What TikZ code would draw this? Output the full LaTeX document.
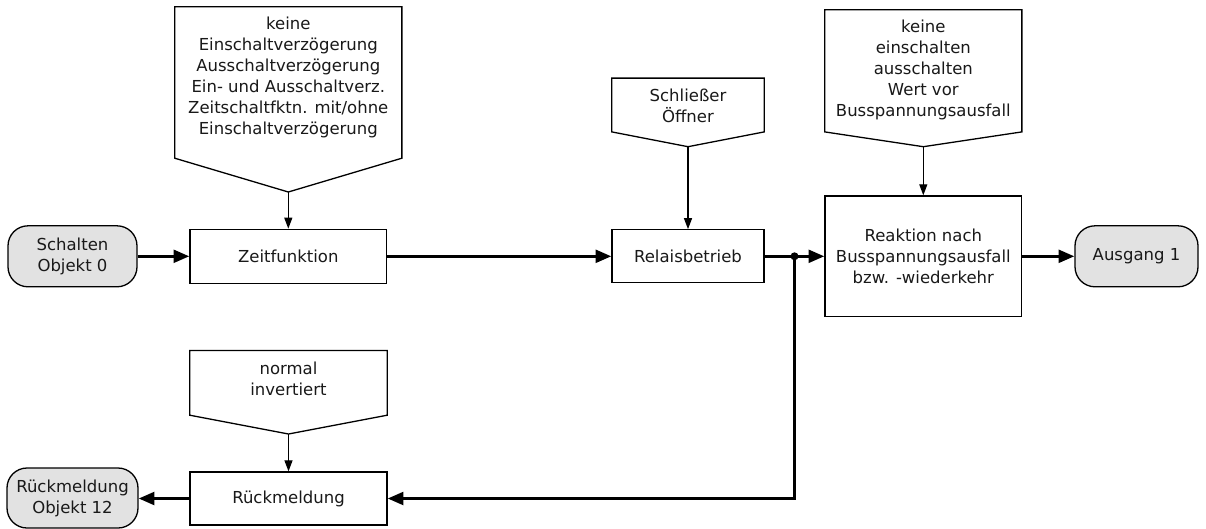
\documentclass[tikz,border=0pt]{standalone}
\usepackage{fontspec}
\setmainfont{DejaVu Sans}
\usetikzlibrary{arrows.meta,calc}
\definecolor{termgray}{RGB}{226,226,226}
\begin{document}
\begin{tikzpicture}[x=1pt,y=-1pt,
  every node/.style={font=\fontsize{16.5}{21}\selectfont, align=center, inner sep=0pt, text=black!90},
  proc/.style={draw, line width=1.3pt, fill=white},
  term/.style={draw, line width=1.3pt, fill=termgray, rounded corners=20pt},
  flow/.style={line width=3pt, -{Triangle[length=15.7pt,width=12.7pt]}},
  parr/.style={line width=1.2pt, -{Triangle[length=11pt,width=8pt]}},
  frame/.style={draw=none, fill=none}]
\useasboundingbox (0,0) rectangle (1206,528);

% process boxes
\node[proc, minimum width=196.7pt, minimum height=54pt] (zeit) at (288.3,256.3) {Zeitfunktion};
\node[proc, minimum width=152pt, minimum height=53pt] (relais) at (688,256.3) {Relaisbetrieb};
\node[proc, minimum width=196.7pt, minimum height=120.7pt] (reakt) at (923.3,256.3) {Reaktion nach\\Busspannungsausfall\\bzw. -wiederkehr};
\node[proc, minimum width=197pt, minimum height=53pt] (rueck) at (288.5,498.5) {Rückmeldung};

% terminals
\node[term, minimum width=129pt, minimum height=61pt] (schalt) at (72.5,256.3) {Schalten\\Objekt 0};
\node[term, minimum width=123pt, minimum height=61pt] (ausg) at (1136.5,256.3) {Ausgang 1};
\node[term, minimum width=131pt, minimum height=60pt] (robj) at (72.5,498) {Rückmeldung\\Objekt 12};

% parameter pentagons
\node[frame, minimum width=226.7pt, minimum height=151pt] (p1) at (288.3,82.5) {};
\coordinate (p1tip) at (288.3,192);
\draw[proc] (p1.north west) -- (p1.north east) -- (p1.south east) -- (p1tip) -- (p1.south west) -- cycle;
\node (t1) at (288.3,77.5) {keine\\Einschaltverzögerung\\Ausschaltverzögerung\\Ein- und Ausschaltverz.\\Zeitschaltfktn. mit/ohne\\Einschaltverzögerung};

\node[frame, minimum width=152pt, minimum height=53.4pt] (p2) at (688,105) {};
\coordinate (p2tip) at (688,146.7);
\draw[proc] (p2.north west) -- (p2.north east) -- (p2.south east) -- (p2tip) -- (p2.south west) -- cycle;
\node (t2) at (688,106) {Schließer\\Öffner};

\node[frame, minimum width=196.7pt, minimum height=121.7pt] (p3) at (923.3,70.85) {};
\coordinate (p3tip) at (923.3,146.7);
\draw[proc] (p3.north west) -- (p3.north east) -- (p3.south east) -- (p3tip) -- (p3.south west) -- cycle;
\node (t3) at (923.3,70) {keine\\einschalten\\ausschalten\\Wert vor\\Busspannungsausfall};

\node[frame, minimum width=197pt, minimum height=64.3pt] (p4) at (288.5,382.85) {};
\coordinate (p4tip) at (288.5,434);
\draw[proc] (p4.north west) -- (p4.north east) -- (p4.south east) -- (p4tip) -- (p4.south west) -- cycle;
\node (t4) at (288.5,378.7) {normal\\invertiert};

% parameter arrows
\draw[parr] (p1tip) -- (zeit.north);
\draw[parr] (p2tip) -- (relais.north);
\draw[parr] (p3tip) -- (reakt.north);
\draw[parr] (p4tip) -- (rueck.north);

% main flow
\coordinate (j) at (794.5,256.3);
\draw[flow] (schalt.east) -- (zeit.west);
\draw[flow] (zeit.east) -- (relais.west);
\draw[flow] (relais.east) -- (reakt.west);
\draw[flow] (reakt.east) -- (ausg.west);
\draw[flow] (j) |- (rueck.east);
\draw[flow] (rueck.west) -- (rueck.west -| robj.east);
\fill (j) circle (4pt);
\end{tikzpicture}
\end{document}
